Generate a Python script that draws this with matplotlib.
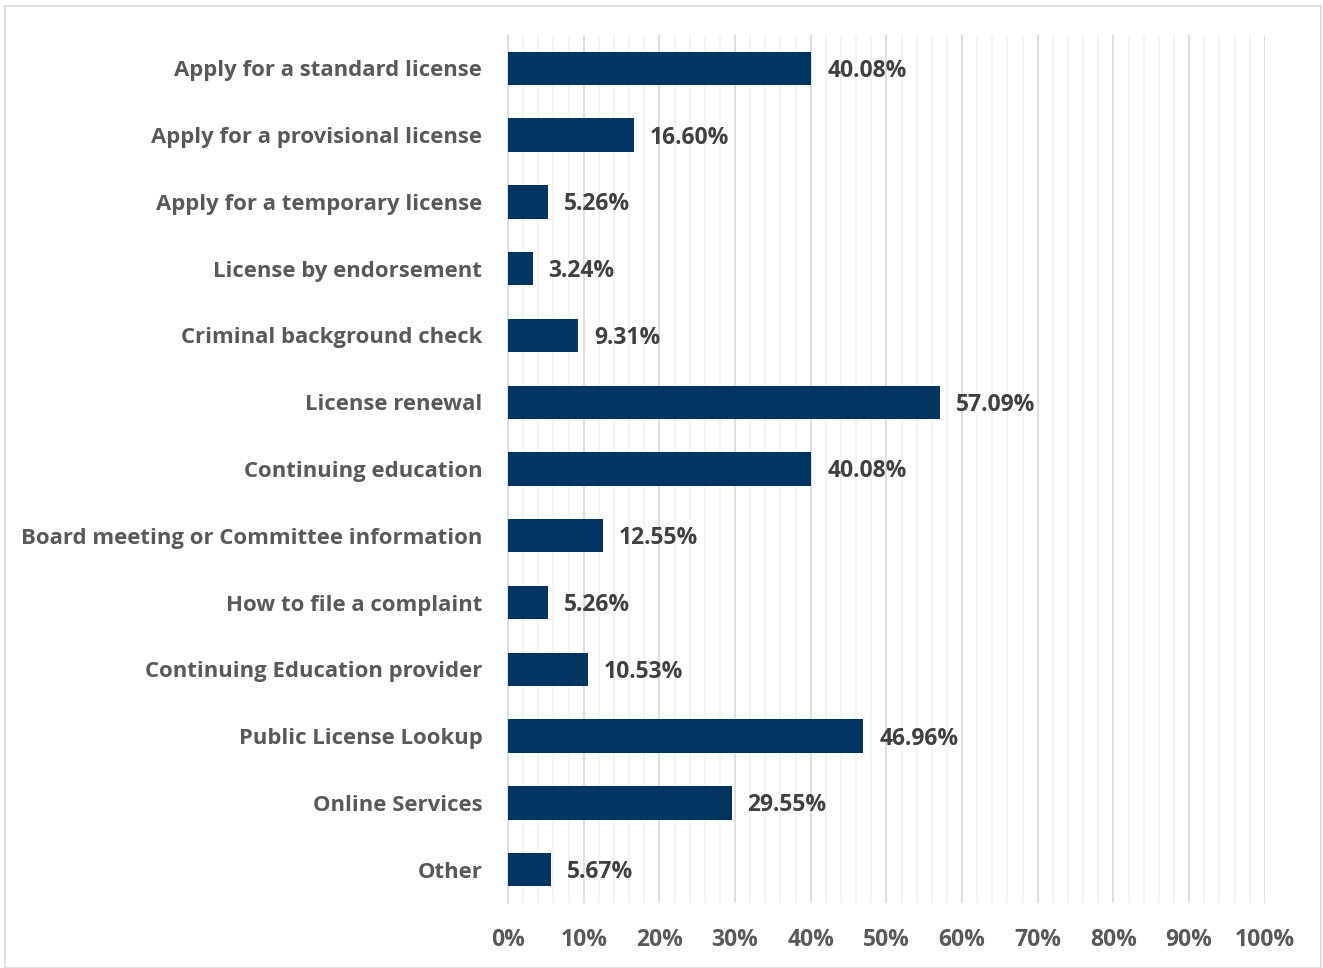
import matplotlib
matplotlib.use("Agg")
import matplotlib.pyplot as plt
from matplotlib.ticker import MultipleLocator, FuncFormatter
from matplotlib.patches import Rectangle

categories = [
    "Apply for a standard license",
    "Apply for a provisional license",
    "Apply for a temporary license",
    "License by endorsement",
    "Criminal background check",
    "License renewal",
    "Continuing education",
    "Board meeting or Committee information",
    "How to file a complaint",
    "Continuing Education provider",
    "Public License Lookup",
    "Online Services",
    "Other",
]
values = [40.08, 16.60, 5.26, 3.24, 9.31, 57.09, 40.08, 12.55, 5.26, 10.53, 46.96, 29.55, 5.67]

BAR = "#003561"
FONT = ["Open Sans", "DejaVu Sans"]
FS_CAT = 15.9
FS_NUM = 16.5

fig = plt.figure(figsize=(13.23, 9.68), dpi=100)
ax = fig.add_axes([0.384, 0.067, 0.572, 0.897])

y = list(range(len(categories)))
ax.barh(y, values, height=0.5, color=BAR, zorder=3)
ax.set_ylim(len(categories) - 0.5, -0.5)
ax.set_xlim(0, 100)

ax.xaxis.set_major_locator(MultipleLocator(10))
ax.xaxis.set_minor_locator(MultipleLocator(2))
ax.xaxis.set_major_formatter(FuncFormatter(lambda v, p: f"{v:.0f}%"))
ax.grid(axis="x", which="major", color="#d9d9d9", linewidth=1.2, zorder=0)
ax.grid(axis="x", which="minor", color="#f2f2f2", linewidth=1.2, zorder=0)

for s in ["top", "right", "bottom"]:
    ax.spines[s].set_visible(False)
ax.spines["left"].set_color("#d9d9d9")
ax.spines["left"].set_linewidth(1.2)

ax.set_yticks(y)
ax.set_yticklabels(categories)
ax.tick_params(axis="both", which="both", length=0)
ax.tick_params(axis="y", pad=18.5)
ax.tick_params(axis="x", pad=18)
for lab in ax.get_yticklabels():
    lab.set_fontfamily(FONT)
    lab.set_fontweight("bold")
    lab.set_fontsize(FS_CAT)
    lab.set_color("#595959")
for lab in ax.get_xticklabels():
    lab.set_fontfamily(FONT)
    lab.set_fontweight("bold")
    lab.set_fontsize(FS_NUM)
    lab.set_color("#595959")

for yi, v in zip(y, values):
    ax.annotate(f"{v:.2f}%", xy=(v, yi), xytext=(11.5, -1.8), textcoords="offset points",
                va="center", ha="left", fontsize=FS_NUM, fontweight="bold",
                family=FONT, color="#404040")

fig.patches.append(Rectangle((5 / 1323, 0), 1316 / 1323, 962 / 968, transform=fig.transFigure,
                             fill=False, edgecolor="#d9d9d9", linewidth=1.2))

fig.savefig("out.png", dpi=100)
